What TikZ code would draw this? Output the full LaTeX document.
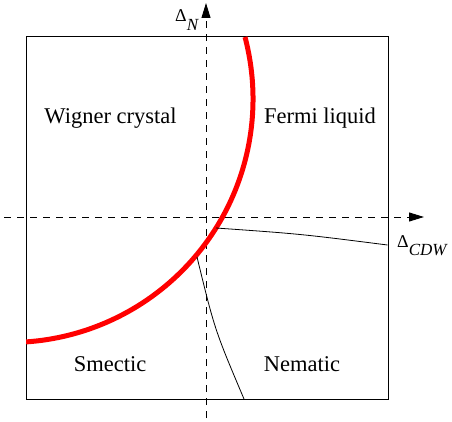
\documentclass[tikz,border=0pt]{standalone}
\usepackage{fontspec}
\setmainfont{Liberation Serif}
\newfontfamily\timesfont{Liberation Serif}
\usetikzlibrary{arrows.meta}
\definecolor{ink}{HTML}{000000}
\definecolor{phase}{HTML}{FF0000}
\tikzset{
  region/.style={anchor=base,inner sep=0pt,font=\timesfont\fontsize{22.5}{27}\selectfont,text=ink},
  axlabel/.style={anchor=base west,inner sep=0pt,font=\timesfont\fontsize{18}{20}\selectfont,text=ink},
  axis/.style={draw=ink,line width=1pt,dash pattern=on 7pt off 6pt,-{Triangle[length=15pt,width=9pt]}},
  frame/.style={draw=ink,line width=1pt},
  bound/.style={draw=ink,line width=0.8pt},
  redline/.style={draw=phase,line width=5pt},
}
\newcommand{\axsub}[1]{\raisebox{-8.5pt}{\fontsize{17}{19}\selectfont\itshape #1}}

\begin{document}
\begin{tikzpicture}[x=1pt,y=-1pt]
  \useasboundingbox (0,0) rectangle (452,422);
  % ── box ──
  \coordinate (bl) at (26,399); \coordinate (tr) at (388,37);
  \draw[frame] (bl) rectangle (tr);
  % ── axes ──
  \coordinate (vlo) at (206,418); \coordinate (vhi) at (206,3);
  \coordinate (hlo) at (4,217); \coordinate (hhi) at (424,217);
  \draw[axis] (vlo) -- (vhi);
  \draw[axis] (hlo) -- (hhi);
  \node[axlabel] (dn) at (175,22) {Δ\axsub{N}};
  \node[axlabel] (dcdw) at (397,247) {Δ\axsub{CDW}};
  % ── phase boundaries ──
  \begin{scope}
    \clip (bl) rectangle (tr);
    \draw[redline] (245,37) arc[start angle=-14.75,end angle=86.1,radius=243.5];
  \end{scope}
  \coordinate (p1) at (216,228); \coordinate (q1) at (387.5,245);
  \coordinate (p2) at (197,257); \coordinate (q2) at (244,399);
  \draw[bound] (p1) .. controls (301,234) .. (q1);
  \draw[bound] (p2) .. controls (214.8,330) .. (q2);
  % ── regions ──
  \node[region] (wc) at (110.5,124) {Wigner crystal};
  \node[region] (fl) at (320,124) {Fermi liquid};
  \node[region] (sm) at (110,371) {Smectic};
  \node[region] (ne) at (302,371) {Nematic};
\end{tikzpicture}
\end{document}
